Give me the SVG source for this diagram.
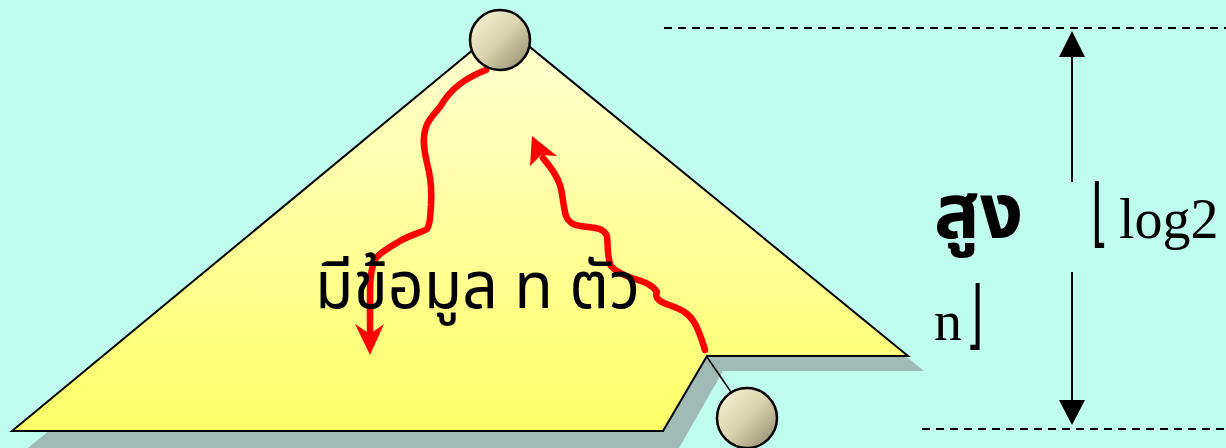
<svg xmlns="http://www.w3.org/2000/svg" width="1226" height="448" viewBox="0 0 1226 448">
  <defs>
    <linearGradient id="fillG" x1="0" y1="0" x2="0" y2="1">
      <stop offset="0" stop-color="#ffffd4"/>
      <stop offset="1" stop-color="#ffff66"/>
    </linearGradient>
    <linearGradient id="ballG" x1="0" y1="0" x2="1" y2="1">
      <stop offset="0" stop-color="#fbf8dc"/>
      <stop offset="0.5" stop-color="#d8d3ad"/>
      <stop offset="1" stop-color="#8a876a"/>
    </linearGradient>
    <style>
      .thai { font-family: "Noto Sans Thai", "Noto Sans", "DejaVu Sans", sans-serif; fill: #000; }
      .serif { font-family: "Liberation Serif", "DejaVu Serif", serif; fill: #000; }
      .br { font-family: "DejaVu Sans", sans-serif; font-weight: 200; font-size: 56px; fill: #000; }
      .red { fill: none; stroke: #ff0000; stroke-width: 6.5; stroke-linecap: round; stroke-linejoin: round; }
      .dash { stroke: #000; stroke-width: 2; stroke-dasharray: 8 6; }
      .ball { fill: url(#ballG); stroke: #000; stroke-width: 2.5; }
    </style>
  </defs>
  <rect width="1226" height="448" fill="#bffdee"/>

  <g id="heap">
    <path d="M28,448 L519,42 L924,371 L723,371 L679,448 Z" fill="#a0bab5"/>
    <path d="M12,431 L503,25 L908,356 L707,356 L663,431 Z" fill="url(#fillG)" stroke="#000" stroke-width="2"/>
  </g>

  <g id="connectors">
    <line x1="707" y1="357" x2="731" y2="392" stroke="#000" stroke-width="1.5"/>
    <path class="red" d="M486,70 C478,73 468,78 460,84 C452,90 445,98 440,107 C434,114 428,120 426,127 C422,138 424,150 427,163 C431,178 432,190 431,205 C430,215 431,223 427,229 C420,233 410,235 400,241 C390,247 382,251 376,258 C370,268 370,285 370,300 L370,340"/>
    <path d="M370,355 L355,324 L370,334 L384,324 Z" fill="#ff0000"/>
    <path class="red" d="M705,350 C702,340 699,330 694,322 C688,312 680,309 669,305 C660,302 654,298 657,292 C653,285 645,282 635,279 C625,276 616,272 611,266 C607,258 608,245 607,236 C604,229 598,228 588,227 C577,226 570,225 566,216 C563,206 563,195 560,185 C556,174 551,168 543,158"/>
    <path d="M532,136 L530,166 L541,155 L557,156 Z" fill="#ff0000"/>
  </g>

  <g id="ballTop">
    <circle class="ball" cx="500" cy="40" r="30"/>
  </g>
  <g id="ballBottom">
    <circle class="ball" cx="747" cy="418" r="30"/>
  </g>

  <g id="label">
    <text class="thai" x="315" y="308" font-size="66" textLength="325" lengthAdjust="spacingAndGlyphs">มีข้อมูล n ตัว</text>
  </g>

  <g id="height">
    <line class="dash" x1="664" y1="28" x2="1226" y2="28"/>
    <line class="dash" x1="922" y1="429" x2="1226" y2="429"/>
    <line x1="1072" y1="55" x2="1072" y2="182" stroke="#000" stroke-width="2"/>
    <line x1="1072" y1="272" x2="1072" y2="402" stroke="#000" stroke-width="2"/>
    <path d="M1072,31 L1085,57 L1059,57 Z" fill="#000"/>
    <path d="M1072,425 L1085,400 L1059,400 Z" fill="#000"/>
    <text class="thai" x="934" y="238" font-size="76" font-weight="bold">สูง</text>
    <text class="br" transform="translate(1091,238) scale(0.8,1.34)">⌊</text>
    <text class="serif" x="1119" y="238" font-size="56">log2</text>
    <text class="serif" x="934" y="340" font-size="56">n</text>
    <text class="br" transform="translate(966,340) scale(0.8,1.34)">⌋</text>
  </g>
</svg>
